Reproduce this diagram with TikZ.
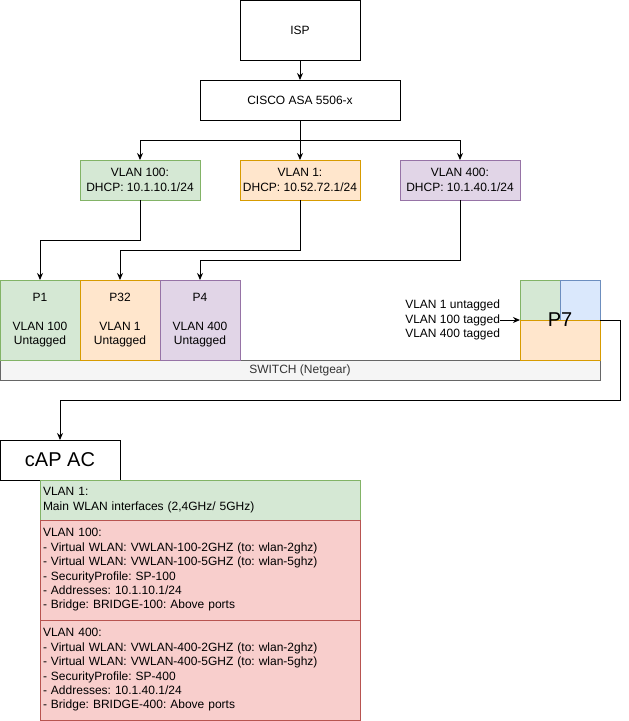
\documentclass[tikz,border=0pt]{standalone}
\usepackage{fontspec}
\setmainfont{Liberation Sans}
\frenchspacing
\usetikzlibrary{arrows.meta,calc}
\definecolor{gruen}{HTML}{82B366}
\definecolor{gruenl}{HTML}{D5E8D4}
\definecolor{gelb}{HTML}{D79B00}
\definecolor{gelbl}{HTML}{FFE6CC}
\definecolor{lila}{HTML}{9673A6}
\definecolor{lilal}{HTML}{E1D5E7}
\definecolor{blau}{HTML}{6C8EBF}
\definecolor{blaul}{HTML}{DAE8FC}
\definecolor{rot}{HTML}{B85450}
\definecolor{rotl}{HTML}{F8CECC}
\definecolor{grau}{HTML}{666666}
\definecolor{hgrau}{HTML}{F5F5F5}
\definecolor{tgrau}{HTML}{333333}
\tikzset{
  kasten/.style={draw=black,fill=white,line width=1pt,inner sep=0pt,outer sep=0pt,align=center,
    font=\fontsize{12}{14.4}\selectfont},
  vlan/.style={kasten,minimum width=120pt,minimum height=40pt},
  port/.style={kasten,minimum width=80pt,minimum height=80pt},
  wlan/.style={kasten,draw=rot,fill=rotl,text width=314pt,inner xsep=3pt,align=left,anchor=north west},
  pfeil/.style={-{Stealth[length=7pt,width=6pt]},line width=1pt},
  linie/.style={line width=1pt},
}

\begin{document}
\begin{tikzpicture}[x=1pt,y=-1pt]
  \useasboundingbox (0,0) rectangle (629,721);
  % ===== oben: ISP und Firewall =====
  \node[kasten,minimum width=120pt,minimum height=60pt] (isp) at (300,30) {ISP};
  \node[kasten,minimum width=200pt,minimum height=40pt] (asa) at (300,100) {CISCO ASA 5506-x};
  \node[vlan,draw=gruen,fill=gruenl] (v100) at (140,180) {VLAN 100:\\DHCP: 10.1.10.1/24};
  \node[vlan,draw=gelb,fill=gelbl] (v1) at (300,180) {VLAN 1:\\DHCP: 10.52.72.1/24};
  \node[vlan,draw=lila,fill=lilal] (v400) at (460,180) {VLAN 400:\\DHCP: 10.1.40.1/24};
  \draw[pfeil] (isp.south) -- (asa.north);
  \draw[pfeil] (asa.south) -- ++(0,20) -| (v100.north);
  \draw[pfeil] (asa.south) -- (v1.north);
  \draw[pfeil] (asa.south) -- ++(0,20) -| (v400.north);
  % ===== Mitte: Switch =====
  \node[kasten,draw=grau,fill=hgrau,text=tgrau,minimum width=600pt,minimum height=20pt] (switch) at (300,370) {SWITCH (Netgear)};
  \node[port,draw=gruen,fill=gruenl] (p1) at (40,320) {P1\\[14.4pt]VLAN 100\\Untagged};
  \node[port,draw=gelb,fill=gelbl] (p32) at (120,320) {P32\\[14.4pt]VLAN 1\\Untagged};
  \node[port,draw=lila,fill=lilal] (p4) at (200,320) {P4\\[14.4pt]VLAN 400\\Untagged};
  \draw[linie,draw=gruen,fill=gruenl] (520,280) rectangle (560,320);
  \draw[linie,draw=blau,fill=blaul] (560,280) rectangle (600,320);
  \draw[linie,draw=gelb,fill=gelbl] (520,320) rectangle (600,360);
  \node[port,draw=none,fill=none,font=\fontsize{20}{24}\selectfont] (p7) at (560,320) {P7};
  \node[kasten,draw=none,fill=none,align=right,anchor=east] (tags) at (500,320)
    {VLAN 1 untagged\\VLAN 100 tagged\\VLAN 400 tagged};
  \draw[pfeil] (v100.south) -- ++(0,40) -| (p1.north);
  \draw[pfeil] (v1.south) -- ++(0,50) -| (p32.north);
  \draw[pfeil] (v400.south) -- ++(0,60) -| (p4.north);
  \draw[pfeil] (tags.east) -- (p7.west);
  % ===== unten: cAP AC =====
  \node[kasten,minimum width=120pt,minimum height=40pt,font=\fontsize{20}{24}\selectfont] (cap) at (60,460) {cAP AC};
  \node[wlan,draw=gruen,fill=gruenl,minimum height=40pt] (w1) at (40,480)
    {VLAN 1:\\Main WLAN interfaces (2,4GHz/ 5GHz)};
  \node[wlan,minimum height=100pt] (w100) at (w1.south west)
    {VLAN 100:\\- Virtual WLAN: VWLAN-100-2GHZ (to: wlan-2ghz)\\- Virtual WLAN: VWLAN-100-5GHZ (to: wlan-5ghz)\\- SecurityProfile: SP-100\\- Addresses: 10.1.10.1/24\\- Bridge: BRIDGE-100: Above ports};
  \node[wlan,minimum height=100pt] (w400) at (w100.south west)
    {VLAN 400:\\- Virtual WLAN: VWLAN-400-2GHZ (to: wlan-2ghz)\\- Virtual WLAN: VWLAN-400-5GHZ (to: wlan-5ghz)\\- SecurityProfile: SP-400\\- Addresses: 10.1.40.1/24\\- Bridge: BRIDGE-400: Above ports};
  \draw[pfeil] (p7.east) -- ++(20,0) -- ++(0,80) -| (cap.north);
\end{tikzpicture}
\end{document}
